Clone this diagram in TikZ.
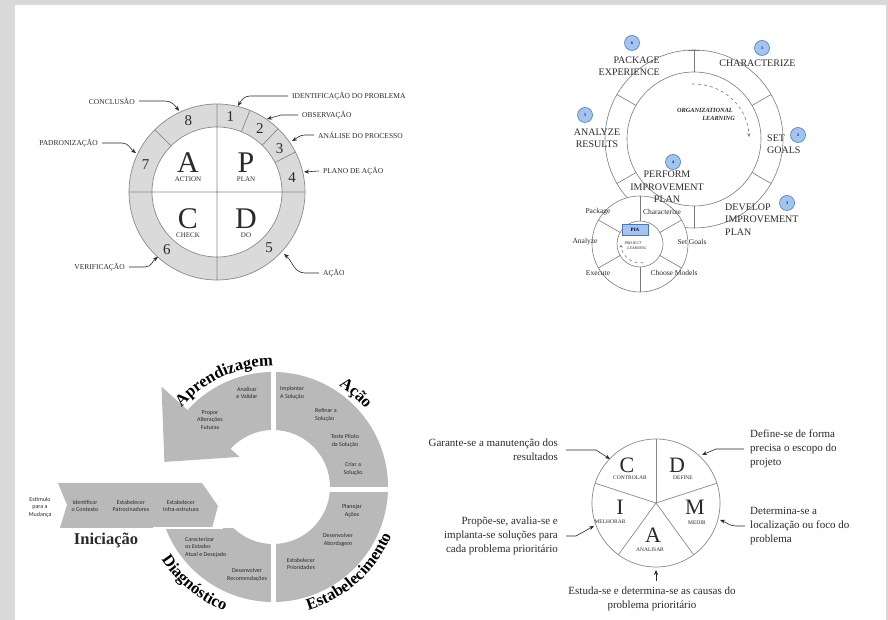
\documentclass[tikz,border=0pt]{standalone}
\usepackage{fontspec}
\setmainfont{Liberation Serif}
\newfontfamily\narrowsans{Carlito}
\usetikzlibrary{arrows.meta,decorations.text}
\definecolor{pagegray}{HTML}{D9D9D9}
\definecolor{ringA}{HTML}{DADADA}
\definecolor{lineA}{HTML}{8A8A8A}
\definecolor{lineQ}{HTML}{7A7A7A}
\definecolor{igray}{HTML}{B9B9B9}
\definecolor{txt}{HTML}{2A2A2A}
\definecolor{bluefill}{HTML}{A3C4EE}
\definecolor{blueline}{HTML}{4A78B8}
\newcommand{\idealhead}{\fontsize{16.5}{16.5}\selectfont\bfseries}
\begin{document}
\begin{tikzpicture}[x=1pt,y=1pt,
 plbl/.style={font=\fontsize{7.5}{9}\selectfont, text=txt, inner sep=0pt},
 pnum/.style={font=\fontsize{15}{15}\selectfont, text=txt, inner sep=0pt},
 pbig/.style={font=\fontsize{30}{30}\selectfont, text=txt, inner sep=0pt},
 psub/.style={font=\fontsize{7}{7}\selectfont, text=txt, inner sep=0pt},
 pline/.style={draw=lineA, line width=0.7pt},
 arr/.style={draw=txt, line width=0.6pt, -{Stealth[length=5pt,width=4pt]}},
 qline/.style={draw=lineQ, line width=0.6pt},
 qlbl/.style={font=\fontsize{10}{12.5}\selectfont, text=txt, inner sep=0pt},
 qnum/.style={circle, draw=blueline, fill=bluefill, line width=0.6pt, minimum size=15pt, inner sep=0pt, font=\fontsize{4}{4}\selectfont\bfseries, text=blue!30!black},
 wlbl/.style={font=\fontsize{7.5}{7.5}\selectfont, text=txt, inner sep=0pt},
 olbl/.style={font=\fontsize{6.3}{6.3}\selectfont\bfseries\itshape, text=txt, inner sep=0pt},
 plrn/.style={font=\fontsize{4}{4}\selectfont\itshape, text=txt, inner sep=0pt},
 dline/.style={draw=lineA, line width=0.7pt},
 dbig/.style={font=\fontsize{22}{22}\selectfont, text=txt, inner sep=0pt},
 dsub/.style={font=\fontsize{5.5}{5.5}\selectfont, text=txt, inner sep=0pt},
 ann/.style={font=\fontsize{11}{14}\selectfont, text=txt, inner sep=0pt},
 ism/.style={font=\narrowsans\fontsize{6}{7.5}\selectfont, text=txt, inner sep=0pt, align=center},
 ]
\useasboundingbox (0,0) rectangle (888,620);
\fill[pagegray] (0,0) rectangle (888,620);
\fill[white] (15,0) rectangle (886,615);

% ================= PDCA =================
\begin{scope}[shift={(217,428)}]
 \fill[ringA] (0,0) circle (88);
 \fill[white] (0,0) circle (65);
 \draw[pline] (0,0) circle (88) (0,0) circle (65) (-88,0) -- (88,0) (0,-88) -- (0,88);
 \foreach \a in {135,68,46,27} \draw[pline] (\a:65) -- (\a:88);
 \foreach \n/\a in {8/112,1/80,2/56,3/35,4/11,5/-47,6/-131,7/159}
   \node[pnum] (pn\n) at (\a:76.5) {\n};
 \node[pbig] (pA) at (-29,29) {A};
 \node[psub] (pAs) at (-29,13) {ACTION};
 \node[pbig] (pP) at (29,29) {P};
 \node[psub] (pPs) at (29,13) {PLAN};
 \node[pbig] (pC) at (-29,-27) {C};
 \node[psub] (pCs) at (-29,-43) {CHECK};
 \node[pbig] (pD) at (29,-27) {D};
 \node[psub] (pDs) at (29,-43) {DO};
 \node[plbl, anchor=east] (conc) at (-82,91) {CONCLUSÃO};
 \node[plbl, anchor=east] (padr) at (-119,49) {PADRONIZAÇÃO};
 \node[plbl, anchor=east] (veri) at (-92,-75) {VERIFICAÇÃO};
 \node[plbl, anchor=west] (iden) at (75,96) {IDENTIFICAÇÃO DO PROBLEMA};
 \node[plbl, anchor=west] (obse) at (85,77) {OBSERVAÇÃO};
 \node[plbl, anchor=west] (anal) at (101,57) {ANÁLISE DO PROCESSO};
 \node[plbl, anchor=west] (plan) at (106,21) {PLANO DE AÇÃO};
 \node[plbl, anchor=west] (acao) at (106,-81) {AÇÃO};
 \coordinate (tconc) at (-38,81);
 \coordinate (tpadr) at (-81,39);
 \coordinate (tveri) at (-59,-65);
 \coordinate (tiden) at (21,86);
 \coordinate (tobse) at (50,73);
 \coordinate (tanal) at (75,51);
 \coordinate (tplan) at (87,20);
 \coordinate (tacao) at (67,-62);
 \draw[arr] ([xshift=4pt]conc.east) -- (-52,91) to[out=0,in=125] (tconc);
 \draw[arr] ([xshift=4pt]padr.east) -- (-95,49) to[out=0,in=145] (tpadr);
 \draw[arr] ([xshift=4pt]veri.east) -- (-72,-75) to[out=0,in=215] (tveri);
 \draw[arr] ([xshift=-4pt]iden.west) -- (33,96) to[out=180,in=60] (tiden);
 \draw[arr] ([xshift=-4pt]obse.west) -- (64,77) -- (tobse);
 \draw[arr] ([xshift=-4pt]anal.west) -- (88,57) to[out=180,in=30] (tanal);
 \draw[arr] ([xshift=-4pt]plan.west) -- (tplan);
 \draw[arr] ([xshift=-4pt]acao.west) -- (88,-81) to[out=180,in=-40] (tacao);
\end{scope}

% ================= QIP =================
\begin{scope}[shift={(694,481)}]
 \draw[qline] (0,0) circle (89) (0,0) circle (67);
 \foreach \a in {90,30,-30,-90,-150,150} \draw[qline] (\a:67) -- (\a:89);
 \draw[qline] (-6,89) -- (6,89);
 \draw[qline, dashed, -{Stealth[length=4pt,width=3pt]}] (92:55) arc[start angle=92, end angle=2, radius=55];
 \node[olbl, anchor=east] (org1) at (39,29) {ORGANIZATIONAL};
 \node[olbl, anchor=east] (org2) at (41,21) {LEARNING};
\end{scope}
\begin{scope}[shift={(640,376)}]
 \fill[white] (0,0) circle (48);
 \draw[qline] (0,0) circle (48) (0,0) circle (23);
 \foreach \a in {90,30,-30,-90,-150,150} \draw[qline] (\a:23) -- (\a:48);
 \node[wlbl] (wpk) at (-42,32) {Package};
 \node[wlbl] (wch) at (22,32) {Characterize};
 \node[wlbl] (wan) at (-55,2) {Analyze};
 \node[wlbl] (wsg) at (52,2) {Set Goals};
 \node[wlbl] (wex) at (-42,-29) {Execute};
 \node[wlbl] (wcm) at (34,-29) {Choose Models};
 \node[draw=blueline, fill=bluefill, line width=0.6pt, minimum width=26pt, minimum height=11pt, inner sep=0pt, font=\fontsize{5}{5}\selectfont\bfseries, text=blue!30!black] (pia) at (-5,14) {PIA};
 \node[plrn] (pl1) at (-7,1) {PROJECT};
 \node[plrn] (pl2) at (-3,-4) {LEARNING};
 \draw[qline, dashed, -{Stealth[length=3pt,width=3pt]}] (-80:19) arc[start angle=-80, end angle=-178, radius=19];
\end{scope}
\begin{scope}[shift={(694,481)}]
 \node[qlbl, align=right, anchor=east] (pkg) at (-34,73) {PACKAGE\\EXPERIENCE};
 \node[qlbl] (chr) at (63.5,76) {CHARACTERIZE};
 \node[qlbl, align=left, anchor=west] (setg) at (73,-5) {SET\\GOALS};
 \node[qlbl, align=center] (anl) at (-97,0.5) {ANALYZE\\RESULTS};
 \node[qlbl, align=center] (perf) at (-27,-48) {PERFORM\\IMPROVEMENT\\PLAN};
 \node[qlbl, align=left, anchor=west] (devp) at (31,-80.5) {DEVELOP\\IMPROVEMENT\\PLAN};
 \node[qnum] (q6) at (-62,96) {6};
 \node[qnum] (q1) at (68,91) {1};
 \node[qnum] (q2) at (104,4) {2};
 \node[qnum] (q5) at (-109,24) {5};
 \node[qnum] (q4) at (-21,-23) {4};
 \node[qnum] (q3) at (93,-64) {3};
\end{scope}

% ================= IDEAL =================
\begin{scope}[shift={(273,133)}]
 \fill[igray] (90:115) arc[start angle=90,end angle=138,radius=115] -- (138:150) -- (-108.6,25.1) -- (138:45) -- (138:57) arc[start angle=138,end angle=90,radius=57] -- cycle;
 \fill[igray] (0:57) -- (0:115) arc[start angle=0,end angle=90,radius=115] -- (90:57) arc[start angle=90,end angle=0,radius=57] -- cycle;
 \fill[igray] (-90:57) -- (-90:115) arc[start angle=-90,end angle=0,radius=115] -- (0:57) arc[start angle=0,end angle=-90,radius=57] -- cycle;
 \fill[igray] (-90:57) -- (-90:115) arc[start angle=-90,end angle=-159.1,radius=115] -- (-134:57) arc[start angle=-134,end angle=-90,radius=57] -- cycle;
 \fill[igray] (-215,4) -- (-71,4) -- (-55,-19) -- (-61,-41) -- (-213,-41) -- (-206,-18) -- cycle;
 \draw[white, line width=5pt] (0,-120) -- (0,120) (50,-2.5) -- (120,-2.5);
 \draw[white, line width=2pt] (-120,-41) -- (-50,-41);
 \path[decorate, decoration={text along path, text={|\idealhead|Aprendizagem}, text align=left}] (139:121) arc[start angle=139, end angle=60, radius=121];
 \path[decorate, decoration={text along path, text={|\idealhead|Ação}, text align=left}] (57:121) arc[start angle=57, end angle=-10, radius=121];
 \path[decorate, decoration={text along path, text={|\idealhead|Estabelecimento}, text align=left}] (-74:128) arc[start angle=-74, end angle=30, radius=128];
 \path[decorate, decoration={text along path, text={|\idealhead|Diagnóstico}, text align=left}] (213:133) arc[start angle=213, end angle=300, radius=133];
 \node[text=txt, inner sep=0pt, font=\idealhead] (inic) at (-167,-53) {Iniciação};
 \node[ism] (i1) at (-26,94) {Analisar\\e Validar};
 \node[ism] (i2) at (-63,67) {Propor\\Alterações\\Futuras};
 \node[ism, align=left, anchor=west] (i3) at (7,94) {Implantar\\A Solução};
 \node[ism, align=left, anchor=west] (i4) at (42,72) {Refinar a\\Solução};
 \node[ism] (i5) at (72,46) {Teste Piloto\\da Solução};
 \node[ism] (i6) at (80,18) {Criar a\\Solução};
 \node[ism] (i7) at (79,-24) {Planejar\\Ações};
 \node[ism] (i8) at (65,-53) {Desenvolver\\Abordagem};
 \node[ism] (i9) at (28,-77) {Estabelecer\\Prioridades};
 \node[ism, align=left, anchor=west] (i10) at (-88,-60) {Caracterizar\\os Estados\\Atual e Desejado};
 \node[ism] (i11) at (-26,-88) {Desenvolver\\Recomendações};
 \node[ism] (i12) at (-233,-20) {Estímulo\\para a\\Mudança};
 \node[ism] (i13) at (-188,-19) {Identificar\\o Contexto};
 \node[ism] (i14) at (-142,-19) {Estabelecer\\Patrocinadores};
 \node[ism] (i15) at (-92,-19) {Estabelecer\\Infra-estrutura};
\end{scope}

% ================= DMAIC =================
\begin{scope}[shift={(656,117)}]
 \draw[dline] (0,0) circle (64);
 \foreach \a in {90,18,-54,-126,162} \draw[dline] (0,0) -- (\a:64);
 \node[dbig] (dC) at (-29,38) {C};
 \node[dsub] (dCs) at (-26,25) {CONTROLAR};
 \node[dbig] (dD) at (21,38) {D};
 \node[dsub] (dDs) at (27,25) {DEFINE};
 \node[dbig] (dM) at (39,-4) {M};
 \node[dsub] (dMs) at (41,-20) {MEDIR};
 \node[dbig] (dA) at (-3,-32) {A};
 \node[dsub] (dAs) at (-6,-47) {ANALISAR};
 \node[dbig] (dI) at (-36,-4) {I};
 \node[dsub] (dIs) at (-46,-19) {MELHORAR};
\end{scope}
\node[ann, align=right, anchor=east] (gar) at (558,170) {Garante-se a manutenção dos\\resultados};
\node[ann, align=right, anchor=east] (prop) at (558,84) {Propõe-se, avalia-se e\\implanta-se soluções para\\cada problema prioritário};
\node[ann, align=center] (estu) at (652,21.5) {Estuda-se e determina-se as causas do\\problema prioritário};
\node[ann, align=left, anchor=west] (defi) at (750,171) {Define-se de forma\\precisa o escopo do\\projeto};
\node[ann, align=left, anchor=west] (dete) at (750,94) {Determina-se a\\localização ou foco do\\problema};
\coordinate (tC) at (610,161);
\coordinate (tI) at (594,94);
\coordinate (aS) at (656,39);
\coordinate (tA) at (656,50);
\coordinate (tD) at (702,165);
\coordinate (tM) at (720,100);
\draw[arr] ([xshift=8pt]gar.east) -- (596,170) -- (tC);
\draw[arr] ([xshift=8pt]prop.east) -- (576,84) -- (tI);
\draw[arr] (aS) -- (tA);
\draw[arr] ([xshift=-6pt]defi.west) -- (716,171) -- (tD);
\draw[arr] ([xshift=-5pt]dete.west) -- (736,94) to[out=180,in=-20] (tM);
\end{tikzpicture}
\end{document}
